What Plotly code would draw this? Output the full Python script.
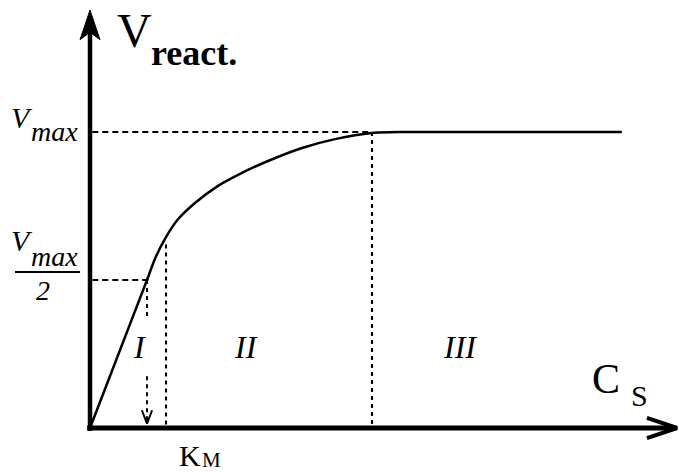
import plotly.graph_objects as go

# Michaelis-Menten style saturation curve (V_max normalised to 1, K_M to 1)
c_s = [0.0, 0.5, 1.0, 1.14, 1.333, 1.544, 1.842, 2.246, 2.667, 3.123,
       3.719, 4.298, 4.947, 5.474, 9.33]
v_react = [0.0, 0.25, 0.5, 0.572, 0.645, 0.705, 0.760, 0.818, 0.862, 0.902,
           0.946, 0.976, 0.997, 1.0, 1.0]

v_max = 1.0
k_m = 1.0
zone_ii_start = 1.333   # end of region I
zone_iii_start = 4.947  # start of saturation region
zone_ii_top = 0.62
km_gap = (0.175, 0.365)  # break in the K_M drop line around the "I" label

region_labels = ["I", "II", "III"]

W, H = 679, 472
# axis scales: 57 px per concentration unit, 296 px per V_max
X0_PX, Y0_PX, SX, SY = 90, 428, 57.0, 296.0
x_range = [-X0_PX / SX, (W - X0_PX) / SX]
y_range = [-(H - Y0_PX) / SY, Y0_PX / SY]

x_axis_end = 10.3
y_axis_end = 1.412

FONT = "Liberation Serif"
BLACK = "black"


def px(x, y):
    """pixel position -> paper coordinates"""
    return x / W, 1 - y / H


fig = go.Figure()

# saturation curve
fig.add_trace(go.Scatter(
    x=c_s, y=v_react, mode="lines",
    line=dict(color=BLACK, width=2.5, shape="spline", smoothing=0.6),
    hoverinfo="skip", showlegend=False,
))

shapes = []
H_DASH = "6px,4px"
V_DASH = "4px,4px"


def dashed(x0, y0, x1, y1, dash):
    shapes.append(dict(type="line", xref="x", yref="y", x0=x0, x1=x1, y0=y0, y1=y1,
                       line=dict(color=BLACK, width=2, dash=dash)))


# V_max guide lines
dashed(0.04, v_max, zone_iii_start, v_max, H_DASH)
dashed(zone_iii_start, v_max, zone_iii_start, 0.01, V_DASH)
# V_max/2 guide lines and drop to K_M
dashed(0.04, v_max / 2, k_m + 0.05, v_max / 2, H_DASH)
dashed(k_m, v_max / 2, k_m, km_gap[1], V_DASH)
dashed(k_m, km_gap[0], k_m, 0.02, V_DASH)
# boundary of region I / II
dashed(zone_ii_start, zone_ii_top, zone_ii_start, 0.01, V_DASH)

# arrow head pointing to K_M on the axis
km_head_dx, km_head_dy = 0.09, 0.06
fig.add_trace(go.Scatter(
    x=[k_m - km_head_dx, k_m, k_m + km_head_dx],
    y=[km_head_dy, 0.015, km_head_dy],
    mode="lines", line=dict(color=BLACK, width=2),
    hoverinfo="skip", showlegend=False,
))

# x axis with open chevron
shapes.append(dict(type="line", xref="x", yref="y", x0=-0.05, x1=x_axis_end - 0.05,
                   y0=0, y1=0, line=dict(color=BLACK, width=5)))
chev_len, chev_half = 0.53, 0.034
fig.add_trace(go.Scatter(
    x=[x_axis_end - chev_len, x_axis_end, x_axis_end - chev_len],
    y=[chev_half, 0, -chev_half],
    mode="lines", line=dict(color=BLACK, width=4),
    hoverinfo="skip", showlegend=False,
))

# y axis with barbed filled head
head_len, head_half, notch = 0.10, 0.175, 0.075
shapes.append(dict(type="line", xref="x", yref="y", x0=0, x1=0,
                   y0=-0.01, y1=y_axis_end - notch, line=dict(color=BLACK, width=4.5)))
shapes.append(dict(
    type="path", xref="x", yref="y",
    path=(f"M 0 {y_axis_end} L {-head_half} {y_axis_end - head_len} "
          f"L 0 {y_axis_end - notch} L {head_half} {y_axis_end - head_len} Z"),
    fillcolor=BLACK, line=dict(color=BLACK, width=1),
))

# fraction bar of V_max/2
fx0, fy = px(15, 272)
fx1, _ = px(80, 272)
shapes.append(dict(type="line", xref="paper", yref="paper", x0=fx0, x1=fx1,
                   y0=fy, y1=fy, line=dict(color=BLACK, width=2)))

annotations = []


def label(text, x, y, size, italic=False, bold=False, xanchor="center"):
    t = text
    if bold:
        t = f"<b>{t}</b>"
    if italic:
        t = f"<i>{t}</i>"
    xp, yp = px(x, y)
    annotations.append(dict(text=t, x=xp, y=yp, xref="paper", yref="paper",
                            showarrow=False, xanchor=xanchor, yanchor="middle",
                            font=dict(family=FONT, size=size, color=BLACK),
                            borderpad=0))


# axis titles
label("V", 134, 30, 48)
label("react.", 194, 53, 36, bold=True)
label("C", 606, 379, 42)
label("S", 639, 395, 30)
label("K", 178, 455, 30, xanchor="left")
label("M", 201, 460, 21, xanchor="left")

# level labels
label("V", 10, 117, 30, italic=True, xanchor="left")
label("max", 30, 131, 28, italic=True, xanchor="left")
label("V", 10, 240, 30, italic=True, xanchor="left")
label("max", 30, 256, 28, italic=True, xanchor="left")
label("2", 43, 290, 28, italic=True)

# region labels
label(region_labels[0], 139, 347, 32, italic=True)
label(region_labels[1], 246, 347, 32, italic=True)
label(region_labels[2], 460, 347, 32, italic=True)

fig.update_layout(
    width=W, height=H,
    margin=dict(l=0, r=0, t=0, b=0),
    paper_bgcolor="white", plot_bgcolor="white",
    xaxis=dict(range=x_range, visible=False, fixedrange=True),
    yaxis=dict(range=y_range, visible=False, fixedrange=True),
    shapes=shapes, annotations=annotations,
    showlegend=False,
)

fig.write_html("out.html", config={"displayModeBar": False})
